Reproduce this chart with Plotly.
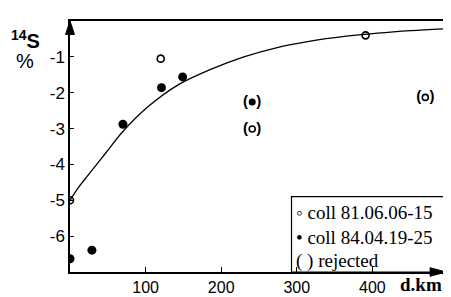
import plotly.graph_objects as go

# open circles: coll 81.06.06-15
open_x = [0, 120, 391]
open_y = [-5.0, -1.05, -0.4]
# filled circles: coll 84.04.19-25
fill_x = [0, 29, 70, 121, 149]
fill_y = [-6.63, -6.39, -2.88, -1.86, -1.56]
# rejected points
rej_open_x = [241, 470]
rej_open_y = [-3.01, -2.13]
rej_fill_x = [241]
rej_fill_y = [-2.26]
# fitted curve
curve_x = [0, 12, 24, 48, 70, 105, 143, 186, 230, 274, 318, 363, 407, 451, 500]
curve_y = [-5.0, -4.62, -4.3, -3.66, -3.08, -2.36, -1.78, -1.35, -1.0, -0.74, -0.56, -0.43, -0.34, -0.27, -0.21]

x_ticks = [100, 200, 300, 400]
y_ticks = [-1, -2, -3, -4, -5, -6]
y_tick_text = ["-1", "-2", "-3", "-4", "-5", "-6"]
legend_labels = ["\u25e6 coll 81.06.06-15", "\u2022 coll 84.04.19-25", "( ) rejected"]

W, H = 380.0, 262.0  # plot area size in px

fig = go.Figure()
fig.add_trace(go.Scatter(x=curve_x, y=curve_y, mode="lines",
                         line=dict(color="black", width=1.3, shape="spline", smoothing=1.0),
                         hoverinfo="skip"))
fig.add_trace(go.Scatter(x=open_x, y=open_y, mode="markers",
                         marker=dict(symbol="circle-open", size=7, color="black", line=dict(width=1.6))))
fig.add_trace(go.Scatter(x=fill_x, y=fill_y, mode="markers",
                         marker=dict(symbol="circle", size=9, color="black")))
fig.add_trace(go.Scatter(x=rej_open_x, y=rej_open_y, mode="markers+text",
                         marker=dict(symbol="circle-open", size=6, color="black", line=dict(width=1.6)),
                         text=["(  )"] * len(rej_open_x), textposition="middle center",
                         textfont=dict(family="Liberation Sans", size=15, color="black", weight="bold")))
fig.add_trace(go.Scatter(x=rej_fill_x, y=rej_fill_y, mode="markers+text",
                         marker=dict(symbol="circle", size=7, color="black"),
                         text=["(  )"] * len(rej_fill_x), textposition="middle center",
                         textfont=dict(family="Liberation Sans", size=15, color="black", weight="bold")))

# legend box
fig.add_shape(type="rect", xref="x", yref="y", x0=293, x1=500, y0=-7, y1=-4.9,
              line=dict(color="black", width=1.2), fillcolor="white", layer="below")

for i, lab in enumerate(legend_labels):
    fig.add_annotation(x=0.592, y=[-5.35, -6.05, -6.68][i], xref="paper", yref="y",
                       text=lab, showarrow=False, xanchor="left", yanchor="middle",
                       font=dict(family="Liberation Serif", size=19, color="black"))

# axis arrowheads (paper-coordinate triangles)
up = "M {a},{b} L {c},{d} L {e},{d} Z".format(a=0, b=1, c=-4.5 / W, d=1 - 14 / H, e=4.5 / W)
fig.add_shape(type="path", xref="paper", yref="paper", path=up,
              fillcolor="black", line=dict(color="black", width=1))
tip = 1 - 2 / W
right = "M {a},{b} L {c},{d} L {c},{e} Z".format(a=tip, b=0, c=tip - 16 / W, d=4.5 / H, e=-4.5 / H)
fig.add_shape(type="path", xref="paper", yref="paper", path=right,
              fillcolor="black", line=dict(color="black", width=1))

# axis titles
fig.add_annotation(x=-0.075, y=0.925, xref="paper", yref="paper", xanchor="right", yanchor="middle",
                   text="<sup>14</sup>S", showarrow=False,
                   font=dict(family="Liberation Sans", size=20, color="black", weight="bold"))
fig.add_annotation(x=-0.09, y=0.84, xref="paper", yref="paper", xanchor="right", yanchor="middle",
                   text="%", showarrow=False,
                   font=dict(family="Liberation Sans", size=20, color="black"))
fig.add_annotation(x=0.99, y=-0.05, xref="paper", yref="paper", xanchor="right", yanchor="middle",
                   text="d.km", showarrow=False,
                   font=dict(family="Liberation Serif", size=19, color="black", weight="bold"))

fig.update_xaxes(range=[0, 500], tickvals=x_ticks, ticks="inside", ticklen=5, tickwidth=1,
                 tickcolor="black", showline=True, linecolor="black", linewidth=1.5, mirror=True,
                 showgrid=False, zeroline=False,
                 tickfont=dict(family="Liberation Sans", size=16, color="black"))
fig.update_yaxes(range=[-7, 0], tickvals=y_ticks, ticktext=y_tick_text, ticks="inside", ticklen=4,
                 tickwidth=1, tickcolor="black", showline=True, linecolor="black", linewidth=1.5,
                 mirror=True, showgrid=False, zeroline=False,
                 tickfont=dict(family="Liberation Sans", size=17, color="black"))
fig.update_layout(width=451, height=297, margin=dict(l=62, r=9, t=13, b=22),
                  paper_bgcolor="white", plot_bgcolor="white", showlegend=False)
fig.write_html("out.html")
